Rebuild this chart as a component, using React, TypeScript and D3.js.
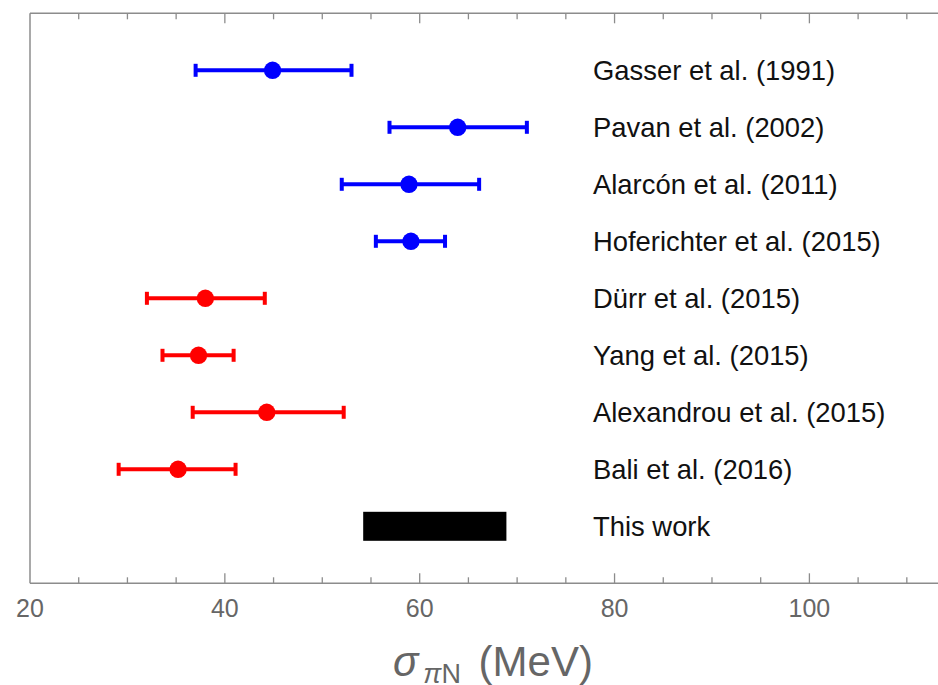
import { useEffect, useRef } from "react";
import * as d3 from "d3";

// measurements (MeV)
const labels = [
  "Gasser et al. (1991)",
  "Pavan et al. (2002)",
  "Alarcón et al. (2011)",
  "Hoferichter et al. (2015)",
  "Dürr et al. (2015)",
  "Yang et al. (2015)",
  "Alexandrou et al. (2015)",
  "Bali et al. (2016)",
];
const centers = [44.9, 63.9, 58.9, 59.1, 38.0, 37.3, 44.3, 35.2];
const lows = [37.0, 56.9, 52.0, 55.5, 32.0, 33.6, 36.7, 29.1];
const highs = [53.0, 71.0, 66.1, 62.6, 44.1, 40.9, 52.2, 41.1];
const kinds = ["pheno", "pheno", "pheno", "pheno", "lattice", "lattice", "lattice", "lattice"];

// this work band
const thisWorkLabel = "This work";
const thisWorkRange = [54.2, 68.9];

const majorTicks = [20, 40, 60, 80, 100];
const minorTicks = d3.range(25, 115, 5).filter((t) => t % 20 !== 0);

const App = () => {
  const svgRef = useRef<SVGSVGElement>(null);

  useEffect(() => {
    const svg = d3.select(svgRef.current);
    svg.selectAll("*").remove();

    const W = 938;
    const left = 30;
    const top = 13.3;
    const bottom = 583.3;

    const x = d3.scaleLinear().domain([20, 113.2]).range([left, W]);
    const y = d3.scaleLinear().domain([0, 10]).range([top, bottom]);
    const color = d3
      .scaleOrdinal<string>()
      .domain(["pheno", "lattice"])
      .range(["#0000ff", "#ff0000"]);

    const font = "'Liberation Sans', Arial, Helvetica, sans-serif";
    const frame = "#8c8c8c";

    const g = svg.append("g");

    // frame (right side is cut off in the original)
    [
      [left, top, W, top],
      [left, bottom, W, bottom],
      [left, top, left, bottom],
    ].forEach(([x1, y1, x2, y2]) => {
      g.append("line")
        .attr("x1", x1)
        .attr("y1", y1)
        .attr("x2", x2)
        .attr("y2", y2)
        .attr("stroke", frame)
        .attr("stroke-width", 1.5);
    });

    // ticks on bottom and top edges
    const ticks = [
      ...majorTicks.map((v) => ({ v, len: 10 })),
      ...minorTicks.map((v) => ({ v, len: 6 })),
    ].filter((d) => d.v > 20);

    g.selectAll(".tick-b")
      .data(ticks)
      .enter()
      .append("line")
      .attr("x1", (d) => x(d.v))
      .attr("x2", (d) => x(d.v))
      .attr("y1", bottom)
      .attr("y2", (d) => bottom - d.len)
      .attr("stroke", frame)
      .attr("stroke-width", 1.3);

    g.selectAll(".tick-t")
      .data(ticks)
      .enter()
      .append("line")
      .attr("x1", (d) => x(d.v))
      .attr("x2", (d) => x(d.v))
      .attr("y1", top)
      .attr("y2", (d) => top + d.len)
      .attr("stroke", frame)
      .attr("stroke-width", 1.3);

    g.selectAll(".tick-label")
      .data(majorTicks)
      .enter()
      .append("text")
      .attr("x", (d) => x(d))
      .attr("y", 617)
      .attr("text-anchor", "middle")
      .style("font-family", font)
      .style("font-size", "25px")
      .style("fill", "#666")
      .text((d) => d);

    // axis title
    const title = g
      .append("text")
      .attr("x", 393)
      .attr("y", 676)
      .style("font-family", font)
      .style("font-size", "42px")
      .style("fill", "#666");
    title.append("tspan").style("font-style", "italic").text("σ");
    title
      .append("tspan")
      .attr("dy", 7)
      .attr("dx", 5)
      .style("font-size", "27px")
      .style("font-style", "italic")
      .text("π");
    title.append("tspan").style("font-size", "27px").text("N");
    title.append("tspan").attr("dy", -7).attr("dx", 6).text(" (MeV)");

    // error bars
    const rows = labels.map((label, i) => ({
      label,
      c: centers[i],
      lo: lows[i],
      hi: highs[i],
      kind: kinds[i],
      row: i + 1,
    }));

    const bars = g
      .selectAll(".pt")
      .data(rows)
      .enter()
      .append("g")
      .attr("fill", (d) => color(d.kind))
      .attr("stroke", (d) => color(d.kind));

    bars
      .append("line")
      .attr("x1", (d) => x(d.lo))
      .attr("x2", (d) => x(d.hi))
      .attr("y1", (d) => y(d.row))
      .attr("y2", (d) => y(d.row))
      .attr("stroke-width", 4);

    bars
      .append("rect")
      .attr("x", (d) => x(d.lo) - 2)
      .attr("y", (d) => y(d.row) - 6.5)
      .attr("width", 4)
      .attr("height", 13)
      .attr("stroke", "none");

    bars
      .append("rect")
      .attr("x", (d) => x(d.hi) - 2)
      .attr("y", (d) => y(d.row) - 6.5)
      .attr("width", 4)
      .attr("height", 13)
      .attr("stroke", "none");

    bars
      .append("circle")
      .attr("cx", (d) => x(d.c))
      .attr("cy", (d) => y(d.row))
      .attr("r", 8.7)
      .attr("stroke", "none");

    // this work
    g.append("rect")
      .attr("x", x(thisWorkRange[0]))
      .attr("y", y(9) - 14.5)
      .attr("width", x(thisWorkRange[1]) - x(thisWorkRange[0]))
      .attr("height", 29)
      .attr("fill", "#000");

    // labels
    g.selectAll(".row-label")
      .data([...labels, thisWorkLabel])
      .enter()
      .append("text")
      .attr("x", 593)
      .attr("y", (d, i) => y(i + 1) + 9.7)
      .style("font-family", font)
      .style("font-size", "27.4px")
      .style("fill", "#111")
      .text((d) => d);
  }, []);

  return (
    <svg
      ref={svgRef}
      width={938}
      height={685}
      style={{ position: "absolute", left: 0, top: 0, background: "#fff" }}
    ></svg>
  );
};

export default App;
